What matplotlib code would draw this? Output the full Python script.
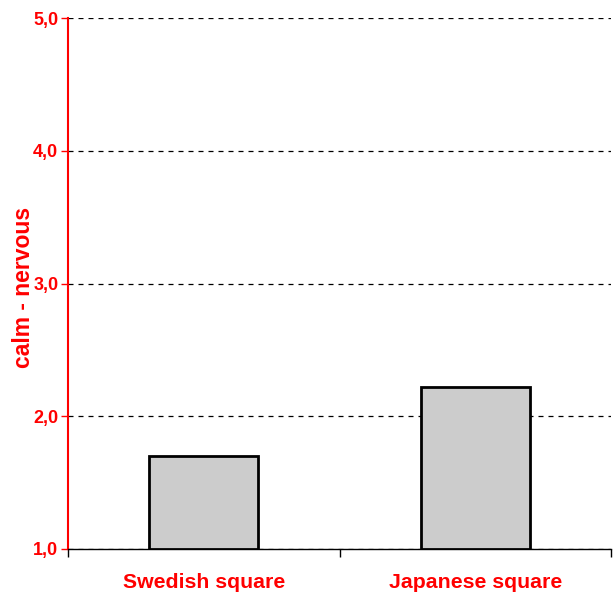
import matplotlib
matplotlib.use("Agg")
import matplotlib.pyplot as plt
from matplotlib.ticker import FixedLocator

categories = ["Swedish square", "Japanese square"]
values = [1.70, 2.22]
y_ticks = [1.0, 2.0, 3.0, 4.0, 5.0]
y_tick_labels = ["1,0", "2,0", "3,0", "4,0", "5,0"]

plt.rcParams['font.family'] = ['Liberation Sans', 'DejaVu Sans']
plt.rcParams['font.weight'] = 'bold'

red = '#ff0000'

fig = plt.figure(figsize=(6.14, 5.93), dpi=100)
ax = fig.add_axes([68 / 614, 1 - 549 / 593, (611 - 68) / 614, (549 - 18) / 593])

x = list(range(len(categories)))
ax.bar(x, [v - 1.0 for v in values], bottom=1.0, width=0.40,
       color='#cccccc', edgecolor='black', linewidth=2, zorder=3)

ax.set_xlim(-0.5, len(categories) - 0.5)
ax.set_ylim(1.0, 5.0)

# y axis
ax.set_yticks(y_ticks)
ax.set_yticklabels(y_tick_labels, color=red, fontsize=13, fontweight='bold')
ax.tick_params(axis='y', colors=red, length=5, width=1, direction='out', pad=2)
ax.yaxis.grid(True, linestyle=(0, (4, 4)), color='black', linewidth=0.9)
ax.set_ylabel("calm - nervous", color=red, fontsize=16.5, fontweight='bold')
ax.yaxis.set_label_coords(-0.061, 0.4925)

# x axis: labels at centers, ticks at boundaries
ax.xaxis.set_major_locator(FixedLocator([-0.5, 0.5, 1.5]))
ax.xaxis.set_minor_locator(FixedLocator(x))
ax.set_xticklabels([])
ax.set_xticklabels(categories, minor=True, color=red, fontsize=15.3, fontweight='bold')
ax.tick_params(axis='x', which='major', length=6, width=1, color='black', direction='out')
ax.tick_params(axis='x', which='minor', length=0, pad=17)

ax.spines['top'].set_visible(False)
ax.spines['right'].set_visible(False)
ax.spines['left'].set_color(red)
ax.spines['left'].set_linewidth(1.5)
ax.spines['bottom'].set_color('black')
ax.spines['bottom'].set_linewidth(1)
ax.set_axisbelow(True)

fig.savefig("out.png", dpi=100)
